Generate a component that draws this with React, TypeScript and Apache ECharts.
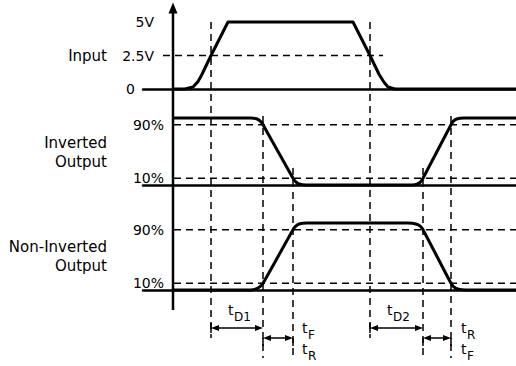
import React, { useEffect, useRef } from 'react';
import * as echarts from 'echarts';

// ---- data (time in arbitrary units, levels in volts / percent) ----
const inputTime = [0, 1.2, 2.0, 2.5, 2.9, 3.8, 5.5, 18.0, 19.7, 20.6, 21.1, 21.5, 22.2, 34.3];
const inputVolts = [0, 0, 0.15, 0.55, 1.1, 2.5, 5, 5, 2.5, 1.1, 0.5, 0.15, 0, 0];

const invertedTime = [0, 7.8, 8.4, 8.75, 9.0, 12.0, 12.25, 12.6, 13.3, 23.9, 24.45, 24.78, 25.0, 27.8, 28.02, 28.35, 29.1, 34.3];
const invertedPct = [100, 100, 98.5, 95, 90, 10, 5, 1.5, 0, 0, 1.5, 5, 10, 90, 95, 98.5, 100, 100];

const nonInvertedTime = [0, 7.8, 8.3, 8.7, 9.0, 12.0, 12.25, 12.6, 13.4, 23.5, 24.3, 24.75, 25.0, 27.8, 28.05, 28.45, 29.3, 34.3];
const nonInvertedPct = [0, 0, 1.5, 5, 10, 90, 95, 98.5, 100, 100, 98.5, 95, 90, 10, 5, 1.5, 0, 0];

const inputTicks = [0, 2.5, 5];
const inputTickLabels = ['0', '2.5V', '5V'];
const outputTicks = [10, 90];
const outputTickLabels = ['10%', '90%'];
const inputThreshold = [2.5];

// marker times: tD1 start, tD1 end / tF start, tF end, tD2 start, tD2 end / tR start, tR end
const markerTimes = [3.8, 9.0, 12.0, 19.7, 25.0, 27.8];
const signalNames = ['Input', 'Inverted\nOutput', 'Non-Inverted\nOutput'];

// ---- layout ----
const T_START = -17.3;
const T_BASE = -3;
const T_END = 34.3;
const FONT = 'DejaVu Sans';
const markerExtent: [number, number][] = [[22, 338], [116, 358], [168, 358], [22, 338], [168, 358], [116, 358]];
const nameY = [56, 152, 256];

export default function App() {
  const ref = useRef<HTMLDivElement>(null);
  useEffect(() => {
    document.body.style.margin = '0';
    const chart = echarts.init(ref.current!, null, { renderer: 'svg' });

    const hidden = { axisLine: { show: false }, axisTick: { show: false }, splitLine: { show: false } };
    const xAxes: any[] = [0, 1, 2].map((i) => ({
      type: 'value', gridIndex: i, min: T_BASE, max: T_END,
      axisLine: { show: true, onZero: true, lineStyle: { color: '#000', width: 2.5 } },
      axisTick: { show: false }, axisLabel: { show: false }, splitLine: { show: false },
    }));
    xAxes.push({ type: 'value', gridIndex: 3, min: T_START, max: T_END, show: false });

    const labelStyle = { fontFamily: FONT, fontSize: 14, color: '#000' };
    const yAxes: any[] = [
      {
        type: 'value', gridIndex: 0, min: 0, max: 5, interval: 2.5, ...hidden,
        axisLabel: {
          ...labelStyle, margin: -11,
          formatter: (v: number) => {
            const i = inputTicks.indexOf(v);
            if (i < 0) return '';
            return v === 0 ? '{z|' + inputTickLabels[i] + '}' : inputTickLabels[i];
          },
          rich: { z: { ...labelStyle, padding: [0, 19, 0, 0] } },
        },
      },
      ...[1, 2].map((g) => ({
        type: 'value', gridIndex: g, min: 0, max: 100, interval: 10, ...hidden,
        axisLabel: {
          ...labelStyle, margin: -21,
          formatter: (v: number) => {
            const i = outputTicks.indexOf(v);
            return i < 0 ? '' : outputTickLabels[i];
          },
        },
      })),
      { type: 'value', gridIndex: 3, min: 0, max: 366, inverse: true, show: false },
    ];

    const line = (g: number, data: number[][], style: any, extra: any = {}) => ({
      type: 'line', xAxisIndex: g, yAxisIndex: g, data, symbol: 'none', clip: false, silent: true,
      lineStyle: { color: '#000', ...style }, ...extra,
    });
    const dashed = { width: 1.5, type: [7, 5] };

    const series: any[] = [];
    // threshold dashed lines
    inputThreshold.forEach((v) => series.push(line(0, [[-1, v], [21.0, v]], dashed)));
    [1, 2].forEach((g) => outputTicks.forEach((v) => series.push(line(g, [[0.1, v], [T_END, v]], dashed))));
    // waveforms
    series.push(line(0, inputTime.map((t, i) => [t, inputVolts[i]]), { width: 3, join: 'round' }));
    series.push(line(1, invertedTime.map((t, i) => [t, invertedPct[i]]), { width: 3 }, { smooth: 0.3 }));
    series.push(line(2, nonInvertedTime.map((t, i) => [t, nonInvertedPct[i]]), { width: 3 }, { smooth: 0.3 }));
    // vertical marker lines
    markerTimes.forEach((t, i) => series.push(line(3, [[t, markerExtent[i][0]], [t, markerExtent[i][1]]], dashed)));
    // brackets for rise/fall arrows
    [1, 2, 4, 5].forEach((i) => series.push(line(3, [[markerTimes[i], 338], [markerTimes[i], 346]], { width: 1.5 })));
    series.push(line(3, [[markerTimes[0], 323], [markerTimes[0], 333]], { width: 1.5 }));
    series.push(line(3, [[markerTimes[3], 323], [markerTimes[3], 333]], { width: 1.5 }));
    // vertical axis with arrow and dimension arrows
    const inset = 0.4;
    const arrow = (a: number, b: number, y: number) => [{ coord: [a + inset, y] }, { coord: [b - inset, y] }];
    series.push(line(3, [[0, 310], [0, 10]], { width: 2.5 }, {
      markPoint: {
        silent: true,
        symbol: 'triangle', symbolSize: [9, 11],
        itemStyle: { color: '#000' }, label: { show: false },
        data: [{ coord: [0, 8] }],
      },
      markLine: {
        silent: true, animation: false,
        symbol: ['triangle', 'triangle'], symbolSize: [6, 8],
        lineStyle: { color: '#000', width: 1.5, type: 'solid' },
        itemStyle: { color: '#000' },
        label: { show: false },
        data: [
          arrow(markerTimes[0], markerTimes[1], 328),
          arrow(markerTimes[3], markerTimes[4], 328),
          arrow(markerTimes[1], markerTimes[2], 338),
          arrow(markerTimes[4], markerTimes[5], 338),
        ],
      },
    }));

    const txt = (text: string, x: number, y: number, size: number, align = 'left', extra: any = {}) => ({
      type: 'text', x, y, silent: true,
      style: {
        text, fontFamily: FONT, fontSize: size, fill: '#000',
        align, verticalAlign: 'middle', textAlign: align, textVerticalAlign: 'middle', ...extra,
      },
    });
    const graphic: any[] = [];
    signalNames.forEach((n, i) => graphic.push(txt(n, 107, nameY[i], 15, 'right', { lineHeight: 19 })));
    const timing: [string, string, number, number][] = [
      ['t', 'D1', 228, 310], ['t', 'D2', 387, 310],
      ['t', 'F', 302, 328], ['t', 'R', 302, 349],
      ['t', 'R', 461, 328], ['t', 'F', 461, 349],
    ];
    timing.forEach(([a, b, x, y]) => {
      graphic.push(txt(a, x, y, 14));
      graphic.push(txt(b, x + 6, y + 7, 12));
    });

    chart.setOption({
      animation: false,
      grid: [
        { left: 143, right: 0, top: 22, height: 67, outerBoundsMode: 'none' },
        { left: 143, right: 0, top: 118, height: 67, outerBoundsMode: 'none' },
        { left: 143, right: 0, top: 223, height: 67, outerBoundsMode: 'none' },
        { left: 0, right: 0, top: 0, bottom: 0, outerBoundsMode: 'none' },
      ],
      xAxis: xAxes,
      yAxis: yAxes,
      series,
      graphic,
    });
    return () => chart.dispose();
  }, []);
  return <div ref={ref} style={{ width: 516, height: 366 }} />;
}
